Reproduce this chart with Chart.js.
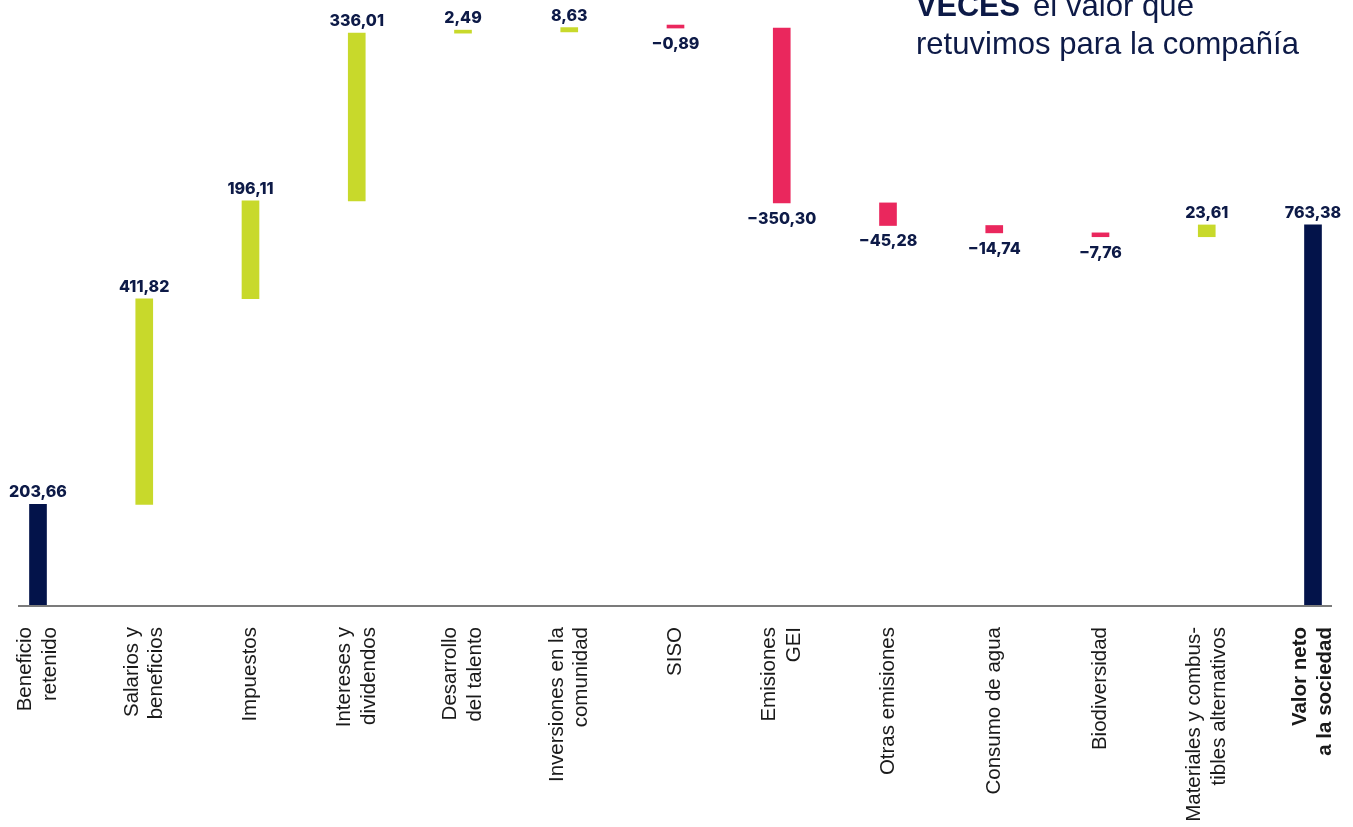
<!DOCTYPE html>
<html><head><meta charset="utf-8">
<script src="https://cdn.jsdelivr.net/npm/chart.js@4.4.1/dist/chart.umd.min.js"></script>
<style>html,body{margin:0;padding:0;background:#fff}#wrap{width:1353px;height:827px;position:relative}</style>
</head><body><div id="wrap"><canvas id="c"></canvas></div>
<script>
// ---- data ----
const categories = [
  ["Beneficio","retenido"],["Salarios y","beneficios"],["Impuestos"],["Intereses y","dividendos"],
  ["Desarrollo","del talento"],["Inversiones en la","comunidad"],["SISO"],["Emisiones","GEI"],
  ["Otras emisiones"],["Consumo de agua"],["Biodiversidad"],["Materiales y combus-","tibles alternativos"],
  ["Valor neto","a la sociedad"]
];
const changes = [203.66, 411.82, 196.11, 336.01, 2.49, 8.63, -0.89, -350.30, -45.28, -14.74, -7.76, 23.61];
const netValue = 763.38;
const annotationBold = "VECES";
const annotationRest = "el valor que";
const annotationLine2 = "retuvimos para la compañía";

// ---- build waterfall ranges ----
const ranges = [];
const labelsVals = [];
let run = 0;
changes.forEach((v, i) => {
  if (i === 0) { ranges.push([0, v]); }
  else { ranges.push([run, run + v]); }
  run += v;
  labelsVals.push(v);
});
ranges.push([0, netValue]);
labelsVals.push(netValue);

const NAVY = '#03134a', GREEN = '#c8d92b', PINK = '#ea275d', TEXT = '#0d1a47';
const colors = labelsVals.map((v, i) => (i === 0 || i === labelsVals.length - 1) ? NAVY : (v >= 0 ? GREEN : PINK));
const TICK_SIZE = 20.5, TICK_LH = 1.2;

function fmt(v) {
  const s = Math.abs(v).toFixed(2).replace('.', ',');
  return v < 0 ? '\u2212' + s : s;
}

const overlay = {
  id: 'overlay',
  beforeDraw(chart) {
    // centre multi-line rotated tick labels on their tick
    const items = chart.scales.x.getLabelItems();
    if (!items._centred) {
      const lh = TICK_SIZE * TICK_LH;
      items.forEach(it => {
        const n = Array.isArray(it.label) ? it.label.length : 1;
        it.options.translation[0] -= (n - 1) * lh / 2;
      });
      items._centred = true;
    }
  },
  afterDatasetsDraw(chart) {
    const ctx = chart.ctx;
    const meta = chart.getDatasetMeta(0);
    const y0 = chart.scales.y.getPixelForValue(0);
    const first = meta.data[0], last = meta.data[meta.data.length - 1];
    ctx.save();
    ctx.strokeStyle = '#7b7b7b';
    ctx.lineWidth = 2;
    ctx.beginPath();
    ctx.moveTo(first.x - 20, y0);
    ctx.lineTo(last.x + 19, y0);
    ctx.stroke();
    ctx.font = '800 16px Inter';
    ctx.fillStyle = TEXT;
    ctx.textAlign = 'center';
    meta.data.forEach((el, i) => {
      const v = labelsVals[i];
      const top = Math.min(el.y, el.base), bot = Math.max(el.y, el.base);
      if (v >= 0) { ctx.textBaseline = 'alphabetic'; ctx.fillText(fmt(v), el.x, top - 7); }
      else { ctx.textBaseline = 'top'; ctx.fillText(fmt(v), el.x, bot + 8); }
    });
    ctx.restore();
  },
  afterDraw(chart) {
    const ctx = chart.ctx;
    ctx.save();
    ctx.fillStyle = TEXT;
    ctx.textAlign = 'left';
    ctx.textBaseline = 'alphabetic';
    ctx.font = '700 32px "Liberation Sans"';
    ctx.fillText(annotationBold, 916, 16, 104);
    ctx.font = '400 32px "Liberation Sans"';
    ctx.fillText(annotationRest, 1033, 16, 161);
    ctx.fillText(annotationLine2, 916, 54, 383);
    ctx.restore();
  }
};

new Chart(document.getElementById('c'), {
  type: 'bar',
  data: {
    labels: categories,
    datasets: [{
      data: ranges,
      backgroundColor: colors,
      barThickness: 17,
      minBarLength: 3,
      borderSkipped: false,
      borderWidth: 0,
      clip: false
    }]
  },
  options: {
    responsive: true,
    maintainAspectRatio: false,
    animation: false,
    devicePixelRatio: 1,
    layout: { padding: { left: 38, right: 40, top: 0, bottom: 0 } },
    plugins: { legend: { display: false }, tooltip: { enabled: false } },
    scales: {
      x: {
        offset: false,
        grid: { display: false, drawTicks: false },
        border: { display: false },
        afterFit(scale) { scale.height = 221; scale.paddingLeft = 0; scale.paddingRight = 0; },
        ticks: {
          autoSkip: false,
          minRotation: 90,
          maxRotation: 90,
          padding: 21,
          color: '#1a1a1a',
          font: (c) => ({ family: '"Liberation Sans", Arial, sans-serif', size: TICK_SIZE, lineHeight: TICK_LH,
                          weight: (c.index === categories.length - 1) ? '700' : '400' })
        }
      },
      y: { display: false, min: 0, max: 1214 }
    }
  },
  plugins: [overlay]
});
</script>
</body></html>
